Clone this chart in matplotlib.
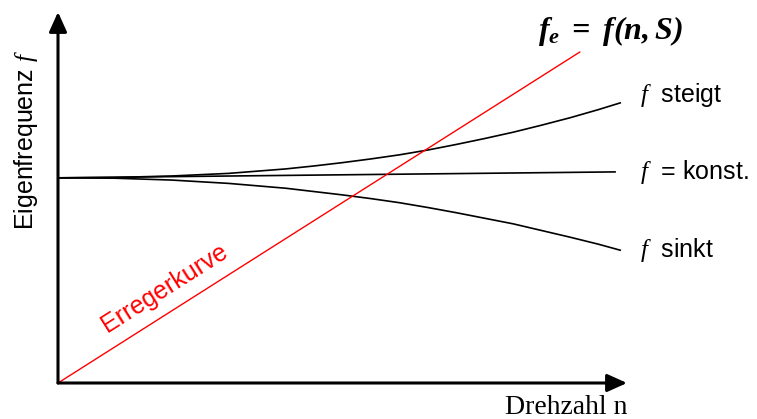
import matplotlib
matplotlib.use("Agg")
import matplotlib.pyplot as plt

plt.rcParams['font.family'] = ['Liberation Sans', 'DejaVu Sans']
plt.rcParams['mathtext.fontset'] = 'custom'
plt.rcParams['mathtext.rm'] = 'Liberation Sans'
plt.rcParams['mathtext.it'] = 'Liberation Serif:italic'
plt.rcParams['mathtext.bf'] = 'Liberation Serif:italic:bold'

# Drehzahl n (0..10) und Eigenfrequenz f (0..10), dimensionslos
n_pts = [0, 1, 2, 3, 4, 4.5, 5, 5.5, 6, 6.5, 7, 7.5, 8, 8.5, 9, 9.5, 9.88]
f_steigt = [5.53, 5.54, 5.58, 5.65, 5.77, 5.85, 5.94, 6.04, 6.15, 6.28, 6.43,
            6.59, 6.76, 6.95, 7.15, 7.37, 7.55]
f_sinkt = [5.53, 5.52, 5.47, 5.38, 5.25, 5.16, 5.07, 4.97, 4.86, 4.73, 4.59,
           4.44, 4.29, 4.11, 3.93, 3.74, 3.58]
n_konst = [0, 9.79]
f_konst = [5.53, 5.69]
n_erreger = [0, 9.17]
f_erreger = [0, 8.92]

W, H = 757, 419
fig = plt.figure(figsize=(W / 100, H / 100), dpi=100)
ax = fig.add_axes([58 / W, 36 / H, 569 / W, 371 / H])
ax.set_xlim(0, 10)
ax.set_ylim(0, 10)
ax.axis('off')

def px(x, y):
    return x / W, 1 - y / H

# Achsen mit Pfeilspitzen
arrow = dict(arrowstyle='-|>,head_length=1.0,head_width=0.45', lw=2.2,
             color='black', shrinkA=0, shrinkB=0, mutation_scale=12)
ax.annotate('', xy=(10, 0), xytext=(0, 0), arrowprops=arrow, annotation_clip=False)
ax.annotate('', xy=(0, 10), xytext=(0, 0), arrowprops=arrow, annotation_clip=False)

# Kurven
ax.plot(n_pts, f_steigt, color='black', lw=1.2, clip_on=False)
ax.plot(n_pts, f_sinkt, color='black', lw=1.2, clip_on=False)
ax.plot(n_konst, f_konst, color='black', lw=1.2, clip_on=False)
ax.plot(n_erreger, f_erreger, color='red', lw=1.0, clip_on=False)

# Beschriftungen
fs = 18
fig.text(*px(640, 95), r'$\mathit{f}$  steigt', fontsize=fs, va='center', ha='left')
fig.text(*px(640, 172), r'$\mathit{f}$  = konst.', fontsize=fs, va='center', ha='left')
fig.text(*px(640, 250), r'$\mathit{f}$  sinkt', fontsize=fs, va='center', ha='left')
fig.text(*px(610, 31), r'$\mathbf{f_e\ =\ f(n,S)}$', fontsize=23, va='center', ha='center')
fig.text(*px(26, 140), r'Eigenfrequenz $\mathit{f}$', fontsize=fs, rotation=90,
         va='center', ha='center')
fig.text(*px(566, 407), 'Drehzahl n', fontsize=20, family='Liberation Serif',
         va='center', ha='center')
fig.text(*px(165, 288), 'Erregerkurve', fontsize=fs, color='red', rotation=32.4,
         rotation_mode='anchor', va='center', ha='center')

fig.savefig('out.png', dpi=100)
